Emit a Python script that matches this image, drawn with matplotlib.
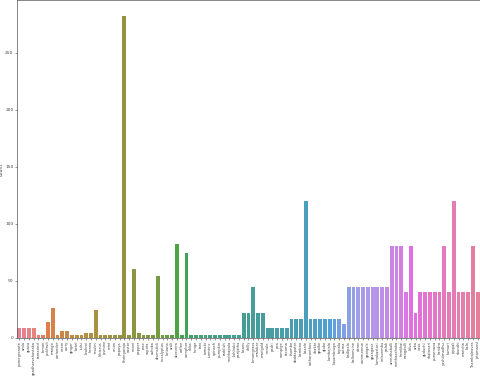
import matplotlib
matplotlib.use("Agg")
import matplotlib.pyplot as plt
import seaborn as sns

categories = [
    "pomegranate", "amla", "guava", "gandharvahastaka", "tamarind", "lemon",
    "jackfruit", "mango", "coriander", "neem", "curry", "ginger",
    "betel", "tulsi", "brahmi", "henna", "insulin", "hibiscus",
    "jasmine", "mint", "onion", "papaya", "bhringaraja", "castor",
    "nooni", "pepper", "rose", "sapota", "ashoka", "drumstick",
    "eucalyptus", "lantana", "arali", "aloevera", "coffee", "camphor",
    "ekka", "honge", "taro", "tomato", "turmeric", "spinach",
    "pumpkin", "raddish", "seethapala", "kohlrabi", "parijatha", "beans",
    "chilly", "lemongrass", "malabar", "marigold", "nerale", "padri",
    "pea", "sampige", "tecoma", "thumbe", "doddapatre", "bamboo",
    "basale", "catharanthus", "chakte", "ganike", "globe", "kambajala",
    "kasambruga", "kepala", "astma", "badipala", "balloonvine", "citron",
    "commonrue", "ganigale", "gasagase", "kamakasturi", "nelavembu", "palak",
    "amruthaballi", "seethaashoka", "herelikai", "naagdalli", "bilva", "arka",
    "vasa", "guduchi", "shatavari", "punarnava", "haridra", "yashtimadhu",
    "kumari", "pippali", "shunthi", "maricha", "bala", "Thambaleaves",
    "jatamansi",
]

counts = [
    8, 8, 8, 8, 2, 2, 14, 26, 2, 6, 6, 2,
    2, 2, 4, 4, 24, 2, 2, 2, 2, 2, 282, 2,
    60, 4, 2, 2, 2, 54, 2, 2, 2, 82, 2, 74,
    2, 2, 2, 2, 2, 2, 2, 2, 2, 2, 2, 22,
    22, 44, 22, 22, 8, 8, 8, 8, 8, 16, 16, 16,
    120, 16, 16, 16, 16, 16, 16, 16, 12, 44, 44, 44,
    44, 44, 44, 44, 44, 44, 80, 80, 80, 40, 80, 22,
    40, 40, 40, 40, 40, 80, 40, 120, 40, 40, 40, 80,
    40,
]

yticks = [0, 50, 100, 150, 200, 250]

n = len(categories)
colors = [sns.desaturate(c, 0.75) for c in sns.color_palette("husl", n)]

fig = plt.figure(figsize=(4.8, 3.79), dpi=100)
ax = fig.add_axes([17 / 480, 1 - 337.6 / 379, 463 / 480, 337.6 / 379])

x = list(range(n))
ax.bar(x, counts, width=0.8, color=colors)
ax.set_xlim(-0.5, n - 0.5)
ax.set_ylim(0, max(counts) * 1.05)
ax.set_xticks(x)
ax.set_xticklabels(categories, rotation=90, fontsize=2.6)
ax.set_yticks(yticks)
ax.set_yticklabels([str(v) for v in yticks], fontsize=3.2, color="#444444")
ax.set_ylabel("count", fontsize=3.4, color="#444444")
ax.yaxis.set_label_coords(-0.028, 0.5)
ax.tick_params(axis="both", length=1.5, width=0.4, pad=1, colors="#444444")
for s in ax.spines.values():
    s.set_linewidth(0.5)
    s.set_color("#555555")

fig.savefig("out.png", dpi=100)
